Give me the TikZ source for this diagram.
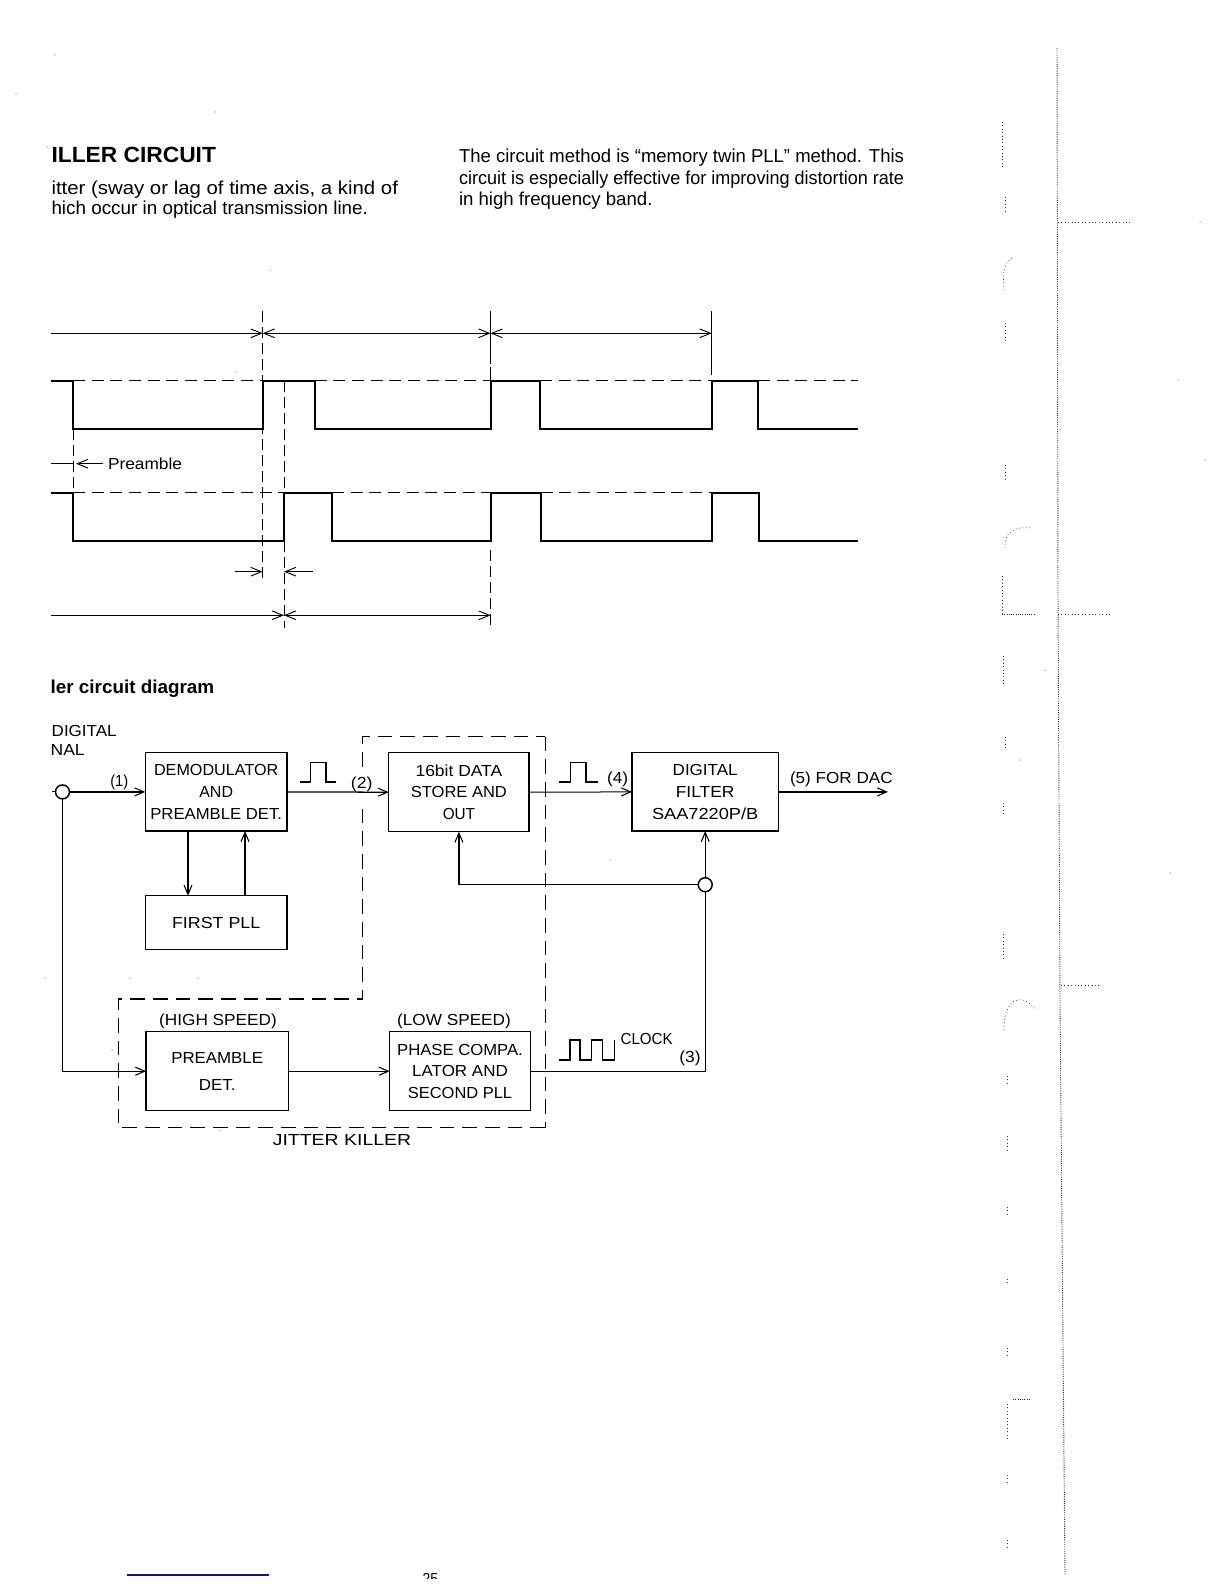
\documentclass[tikz,border=0pt]{standalone}
\usepackage{fontspec}
\usepackage{graphicx}
\setmainfont{Liberation Sans}
\usetikzlibrary{arrows.meta}
\definecolor{footblue}{RGB}{20,20,130}
\newcommand{\fw}[2]{\resizebox{\dimexpr #1pt*3/4\relax}{\height}{#2}}
\tikzset{
  x=0.75pt,y=-0.75pt,
  blockbox/.style={draw,line width=1.1pt,inner sep=0pt,outer sep=0pt,align=center,
    font=\fontsize{12}{16.2}\selectfont},
  bsize/.style 2 args={minimum width={#1*0.75pt},minimum height={#2*0.75pt}},
  jointdot/.style={circle,draw,line width=1.1pt,fill=white,inner sep=0pt,outer sep=0pt,minimum size=10.5pt},
  conn/.style={line width=0.95pt,-{Straight Barb[length=7pt,width=6pt,line width=0.8pt]}},
  thinconn/.style={conn,line width=0.75pt},
  plainconn/.style={line width=0.85pt},
  dimline/.style={line width=0.8pt,{Straight Barb[length=8pt,width=6.5pt,line width=0.7pt]}-{Straight Barb[length=8pt,width=6.5pt,line width=0.7pt]}},
  dimright/.style={line width=0.8pt,-{Straight Barb[length=8pt,width=6.5pt,line width=0.7pt]}},
  wave/.style={line width=1.35pt,line join=miter},
  levelline/.style={line width=0.75pt,dash pattern=on 9pt off 5pt},
  guide/.style={line width=0.7pt,dash pattern=on 8.5pt off 3.5pt},
  killer/.style={line width=0.95pt,dash pattern=on 11pt off 6pt},
  killerthin/.style={line width=0.65pt,dash pattern=on 11pt off 6pt},
  pulse/.style={line width=0.8pt,line join=miter},
  lab/.style={inner sep=0pt,outer sep=0pt,anchor=base,font=\fontsize{12}{14}\selectfont},
  labw/.style={lab,anchor=base west},
  bodytext/.style={inner sep=0pt,outer sep=0pt,anchor=base west,font=\fontsize{14}{16}\selectfont},
  headtext/.style={inner sep=0pt,outer sep=0pt,anchor=base west,font=\fontsize{16.5}{18}\selectfont\bfseries},
  subhead/.style={inner sep=0pt,outer sep=0pt,anchor=base west,font=\fontsize{14}{16}\selectfont\bfseries},
  margin/.style={line width=0.55pt,dotted,black!80},
  marginb/.style={line width=0.7pt,densely dotted,black!85},
}
\begin{document}
\begin{tikzpicture}
\useasboundingbox (0,0) rectangle (1224,1584);
\fill[white] (0,0) rectangle (1224,1584);

% --- header text
\node[headtext] (t1) at (51.5,162.7) {\fw{164.5}{ILLER CIRCUIT}};
\node[bodytext] (t2) at (51.5,194.3) {\fw{346.5}{itter (sway or lag of time axis, a kind of}};
\node[bodytext] (t3) at (51.5,214.3) {\fw{316.5}{hich occur in optical transmission line.}};
\node[bodytext] (t4) at (459,162.7) {\fw{445}{The circuit method is “memory twin PLL” method. This}};
\node[bodytext] (t5) at (459,184.3) {\fw{445}{circuit is especially effective for improving distortion rate}};
\node[bodytext] (t6) at (459,205) {\fw{193.5}{in high frequency band.}};
\node[subhead] (t7) at (50.7,693.3) {\fw{163.5}{ler circuit diagram}};

% --- timing diagram: guides
\draw[guide] (262.7,311) -- (262.7,583);
\draw[guide] (284,380.7) -- (284,628);
\draw[guide] (73.3,428.7) -- (73.3,492.7);
\draw[guide,dash pattern=on 40pt off 2pt] (490.5,311) -- (490.5,380.7);
\draw[guide] (490.7,550) -- (490.7,628);
\draw[line width=0.85pt] (711.7,311) -- (711.7,375);

% --- timing diagram: dimension lines
\draw[dimright] (51,333.3) -- (262.7,333.3);
\draw[dimline] (262.7,333.3) -- (490.5,333.3);
\draw[dimline] (490.5,333.3) -- (711.7,333.3);
\draw[dimright] (235,571.7) -- (262.7,571.7);
\draw[dimright] (312.7,571.7) -- (284,571.7);
\draw[dimright] (51,615.3) -- (284,615.3);
\draw[dimline] (284,615.3) -- (490.7,615.3);
\draw[line width=0.8pt] (51,463.7) -- (73.3,463.7);
\draw[dimright] (103,463.7) -- (76,463.7);
\node[labw] (pre) at (108,469.3) {\fw{74}{Preamble}};

% --- timing diagram: levels
\draw[levelline] (73,380.7) -- (262.7,380.7);
\draw[levelline] (314.7,380.7) -- (490.7,380.7);
\draw[levelline] (540,380.7) -- (711.7,380.7);
\draw[levelline] (758,380.7) -- (858,380.7);
\draw[levelline] (73,492.7) -- (284,492.7);
\draw[levelline] (332,492.7) -- (490.7,492.7);
\draw[levelline] (540.7,492.7) -- (711.7,492.7);

% --- timing diagram: waveforms
\draw[wave] (51,380.7) -| (72.7,428.7) -| (262.7,380.7) -| (314.7,428.7) -| (490.7,380.7)
  -| (540,428.7) -| (711.7,380.7) -| (758,428.7) -- (858,428.7);
\draw[wave] (51,492.7) -| (73.3,540.7) -| (284,492.7) -| (332,540.7) -| (490.7,492.7)
  -| (540.7,540.7) -| (711.7,492.7) -| (758.7,540.7) -- (858,540.7);

% --- block diagram: boxes
\node[blockbox,bsize={141.7}{78.3}] (demod) at (216.2,791.9)
  {\fw{124.3}{DEMODULATOR}\\\fw{33.7}{AND}\\\fw{131.7}{PREAMBLE DET.}};
\node[blockbox,bsize={141.5}{54}] (pll) at (216.2,922.7) {\fw{88.3}{FIRST PLL}};
\node[blockbox,bsize={142.3}{79},font=\fontsize{12}{20.5}\selectfont] (pdet) at (217.2,1071.2)
  {\fw{91.7}{PREAMBLE}\\\fw{36.7}{DET.}};
\node[blockbox,bsize={140.3}{79}] (store) at (458.9,792.2)
  {\fw{86.7}{16bit DATA}\\\fw{96}{STORE AND}\\\fw{32.3}{OUT}};
\node[blockbox,bsize={140.6}{79}] (phase) at (460,1071.2)
  {\fw{125.7}{PHASE COMPA.}\\\fw{95.7}{LATOR AND}\\\fw{104.3}{SECOND PLL}};
\node[blockbox,bsize={146.3}{78.3}] (filter) at (705.2,791.9)
  {\fw{65}{DIGITAL}\\\fw{58.7}{FILTER}\\\fw{106.3}{SAA7220P/B}};

% --- joints and free ends
\node[jointdot] (jin) at (62.5,791.9) {};
\node[jointdot] (jct) at (705.2,884.7) {};
\coordinate (stub) at (52,791.9);
\coordinate (dacout) at (888,791.9);
\coordinate (dnx) at (188,860);
\coordinate (upx) at (245,860);

% --- block diagram: connectors
\draw[plainconn] (stub) -- (jin.west);
\draw[conn] (jin.east) -- (demod.west);
\draw[conn] (jin.south) |- (pdet.west);
\draw[conn] (demod.east) -- (store.west);
\draw[thinconn] (store.east) -- (filter.west);
\draw[conn] (filter.east) -- (dacout);
\draw[conn] (demod.south -| dnx) -- (pll.north -| dnx);
\draw[conn] (pll.north -| upx) -- (demod.south -| upx);
\draw[conn] (jct.north) -- (filter.south);
\draw[conn] (jct.west) -| (store.south);
\draw[plainconn] (phase.east) -| (jct.south);
\draw[thinconn] (pdet.east) -- (phase.west);

% --- jitter killer outline (it breaks around the label (2))
\draw[killer] (362.7,767) -- (362.7,736.7) -- (545,736.7);
\draw[killerthin] (545,736.7) -- (545,1127.7);
\draw[killer] (545,1127.7) -- (118.7,1127.7) -- (118.7,999) -- (362.7,999) -- (362.7,802);

% --- pulse symbols
\draw[pulse] (300,782) -- (310.7,782) -- (310.7,762.3) -- (326,762.3) -- (326,782) -- (336,782);
\draw[pulse] (559.3,782) -- (570.7,782) -- (570.7,762.3) -- (586,762.3) -- (586,782) -- (597.7,782);
\draw[pulse] (559.3,1060) -- (570,1060) -- (570,1040) -- (580,1040) -- (580,1060) -- (591.7,1060)
  -- (591.7,1040) -- (602.3,1040) -- (602.3,1060) -- (614.3,1060) -- (614.3,1040);

% --- labels
\node[lab] (l1) at (119.3,786) {\fw{18}{(1)}};
\node[lab] (l2) at (361.7,788) {\fw{21.7}{(2)}};
\node[lab] (l4) at (617.7,783.5) {\fw{21}{(4)}};
\node[labw] (l5) at (790,783.5) {\fw{102.7}{(5) FOR DAC}};
\node[labw] (lc) at (620.7,1044.5) {\fw{52}{CLOCK}};
\node[lab] (l3) at (690,1062) {\fw{21.3}{(3)}};
\node[lab] (lhs) at (218,1025.5) {\fw{117.7}{(HIGH SPEED)}};
\node[lab] (lls) at (454,1025.5) {\fw{113.7}{(LOW SPEED)}};
\node[lab] (ljk) at (342,1145.5) {\fw{138.3}{JITTER KILLER}};
\node[labw] (ld1) at (51.7,736) {\fw{65}{DIGITAL}};
\node[labw] (ld2) at (50.7,755) {\fw{34}{NAL}};

% --- footer
\draw[footblue,line width=0.85pt] (126.7,1575) -- (269,1575);
\begin{scope}
  \clip (415,1568) rectangle (445,1578);
  \node[labw] (pg) at (422.7,1584) {\fw{15.5}{25}};
\end{scope}

% --- scan residue in the right margin
\draw[marginb] (1057,48) -- (1058,600) -- (1060,1000) -- (1065,1575);
\draw[margin] (1058,222) -- (1130,222);
\draw[margin] (1058,614) -- (1110,614);
\draw[margin] (1061,985) -- (1100,985);
\foreach \ya/\yb/\xx in {122/168/1002,197/212/1005,323/343/1005,465/480/1005,576/614/1002,656/685/1003,
  737/749/1005,803/816/1003,934/960/1003,1076/1085/1007,1136/1151/1007,1207/1217/1007,1279/1285/1007,1348/1355/1007,
  1404/1439/1007,1475/1485/1007,1540/1547/1007}
  \draw[margin] (\xx,\ya) -- (\xx,\yb);
\draw[margin] (1004,290) .. controls (1002,270) and (1005,262) .. (1012,258);
\draw[margin] (1005,548) .. controls (1004,532) and (1014,526) .. (1032,528);
\draw[marginb] (1002,614) -- (1035,614);
\draw[margin] (1004,1030) .. controls (1004,1000) and (1020,990) .. (1036,1010);
\draw[marginb] (1013,1399) -- (1030,1399);
\foreach \px/\py in {55,16/94,47/147,45/978,130/978,198/978,1426/978,1481/1090,220/1130,470/1080,112/1050,1250/1120,1200/222,236/
  372,215/112,1178/380,1285/130,1295/408,1205/460,1170/873,1020/760,610/860,1060/430,1552/590,1550/325,1045/670,270}
  \fill[black] (\px,\py) circle[radius=0.5];
\end{tikzpicture}
\end{document}
